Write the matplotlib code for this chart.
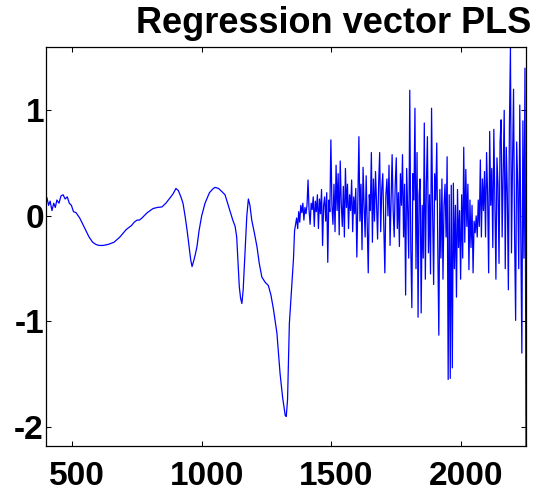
import numpy as np
import matplotlib
matplotlib.use("Agg")
import matplotlib.pyplot as plt
from matplotlib.transforms import ScaledTranslation


# smooth part of the regression vector (wavelength, coefficient)
smooth_x = [404, 410, 416, 423, 430, 436, 442, 450, 458, 466, 474, 482, 490,
            498, 506, 516, 530, 542, 554, 566, 580, 592, 604, 620, 640, 662,
            685, 709, 730, 740, 751, 760, 770, 790, 813, 830, 847, 862, 878,
            890, 901, 910, 920, 928, 936, 944, 952, 958, 963, 970, 976, 982,
            990, 1000, 1013, 1030, 1045, 1052, 1065, 1078, 1090, 1100, 1110,
            1120, 1129, 1135, 1145, 1150, 1155, 1160, 1167, 1174, 1180, 1186,
            1193, 1203, 1213, 1222, 1232, 1245, 1257, 1267, 1277, 1290, 1302,
            1312, 1322, 1326, 1331, 1338, 1348, 1354, 1358]
smooth_y = [0.17, 0.10, 0.14, 0.05, 0.12, 0.08, 0.15, 0.12, 0.19, 0.20, 0.16,
            0.18, 0.12, 0.10, 0.04, 0.03, -0.02, -0.08, -0.14, -0.20, -0.25,
            -0.27, -0.28, -0.28, -0.27, -0.25, -0.20, -0.13, -0.09, -0.06,
            -0.04, -0.04, -0.02, 0.03, 0.07, 0.08, 0.085, 0.12, 0.17, 0.21,
            0.26, 0.24, 0.18, 0.12, 0.0, -0.14, -0.30, -0.42, -0.48, -0.42,
            -0.36, -0.29, -0.14, 0.0, 0.12, 0.22, 0.26, 0.27, 0.26, 0.23,
            0.20, 0.12, 0.04, -0.04, -0.10, -0.20, -0.67, -0.78, -0.83, -0.70,
            -0.35, 0.0, 0.16, 0.10, -0.04, -0.16, -0.29, -0.45, -0.58, -0.63,
            -0.66, -0.75, -0.89, -1.11, -1.49, -1.72, -1.89, -1.90, -1.74,
            -1.02, -0.64, -0.40, -0.14]

# noisy part, 1362..2250 every 4 nm
noisy_x = list(range(1362, 2251, 4))
noisy_y = [
    -0.08, -0.02, -0.12, 0.04, -0.06, 0.10, 0.03, 0.12, -0.04, 0.08,
    0.02, 0.10, 0.34, 0.05, -0.08, 0.12, 0.06, 0.18, -0.10, 0.14,
    0.04, 0.20, -0.12, 0.16, 0.02, 0.25, -0.28, 0.10, 0.18, -0.05,
    0.22, -0.44, 0.15, 0.04, 0.72, 0.10, -0.08, 0.30, -0.15, 0.48,
    0.05, 0.40, -0.18, 0.52, 0.12, -0.10, 0.28, -0.20, 0.45, 0.08,
    0.30, -0.12, 0.20, 0.05, 0.34, -0.15, 0.18, 0.02, 0.26, -0.39,
    0.15, 0.75, -0.05, 0.30, -0.32, 0.46, 0.10, -0.20, 0.38, -0.10,
    -0.54, 0.20, 0.05, 0.60, -0.25, 0.35, -0.05, 0.42, 0.12, -0.22,
    0.30, 0.60, -0.15, 0.25, 0.40, -0.10, -0.54, 0.20, 0.35, 0.00,
    0.48, -0.28, 0.15, 0.58, 0.05, -0.20, 0.30, 0.55, -0.12, 0.22,
    -0.29, 0.40, 0.10, 0.58, -0.20, 0.30, -0.75, 0.45, 0.05, -0.40,
    1.19, -0.30, -0.87, 0.40, 0.15, 1.02, -0.50, 0.60, -0.96, 0.20,
    0.35, -0.92, 0.10, -0.40, 0.88, -0.60, 0.30, 0.75, -0.35, 0.20,
    -0.55, 1.02, 0.05, -0.65, 0.40, 0.15, 0.69, -0.30, -1.13, 0.25,
    -0.40, 0.35, -0.60, 0.10, 0.30, -0.20, 0.56, -1.55, 0.20, -1.54,
    0.29, -1.44, 0.31, -0.50, 0.10, -0.77, 0.25, -0.30, 0.05, -0.60,
    0.20, -0.40, 0.65, -0.25, 0.44, -0.10, 0.30, -0.51, 0.15, -0.30,
    0.10, -0.54, -0.05, -0.16, 0.00, -0.20, 0.15, -0.10, 0.53, -0.20,
    0.35, 0.05, 0.42, -0.20, 0.60, 0.20, -0.54, 0.80, 0.10, 0.45,
    -0.30, 0.82, 0.15, -0.60, 0.55, 0.30, -0.45, 0.70, 0.91, -0.20,
    0.40, 1.00, -0.50, 0.65, 0.20, -0.70, 0.85, 1.59, -0.35, 0.50,
    1.20, -0.20, -0.99, 0.70, 0.30, -0.50, 1.05, -0.20, -1.30, 0.90,
    -0.40, 1.40, -2.18]

x_ticks = [500, 1000, 1500, 2000]
y_ticks = [-2, -1, 0, 1]

wavelength = np.array(smooth_x + noisy_x)
coef = np.array(smooth_y + noisy_y)

plt.rcParams['font.family'] = ['Liberation Sans', 'DejaVu Sans']
plt.rcParams['font.weight'] = 'bold'
plt.rcParams['axes.unicode_minus'] = False

fig = plt.figure(figsize=(5.39, 4.92), dpi=100)
ax = fig.add_axes([0.0853, 0.0935, 0.8906, 0.811])
ax.plot(wavelength, coef, color=(0, 0, 1), lw=0.9)

ax.set_xlim(400, 2250)
ax.set_ylim(-2.18, 1.60)
ax.set_xticks(x_ticks)
ax.set_yticks(y_ticks)
ax.tick_params(direction='in', length=3.6, width=0.75, top=True, right=True,
               labelsize=24)
ax.tick_params(axis='x', pad=10.5)
ax.tick_params(axis='y', pad=1.5)
for lab in ax.get_xticklabels():
    lab.set_fontweight('bold')
    lab.set_transform(lab.get_transform() + ScaledTranslation(5 / 100, 0, fig.dpi_scale_trans))
for lab in ax.get_yticklabels():
    lab.set_fontweight('bold')
for s in ax.spines.values():
    s.set_linewidth(0.9)

fig.text(531 / 539, 1 - 33 / 492, "Regression vector PLS", ha='right',
         va='baseline', fontsize=26, fontweight='bold')

fig.savefig("out.png", dpi=100)
